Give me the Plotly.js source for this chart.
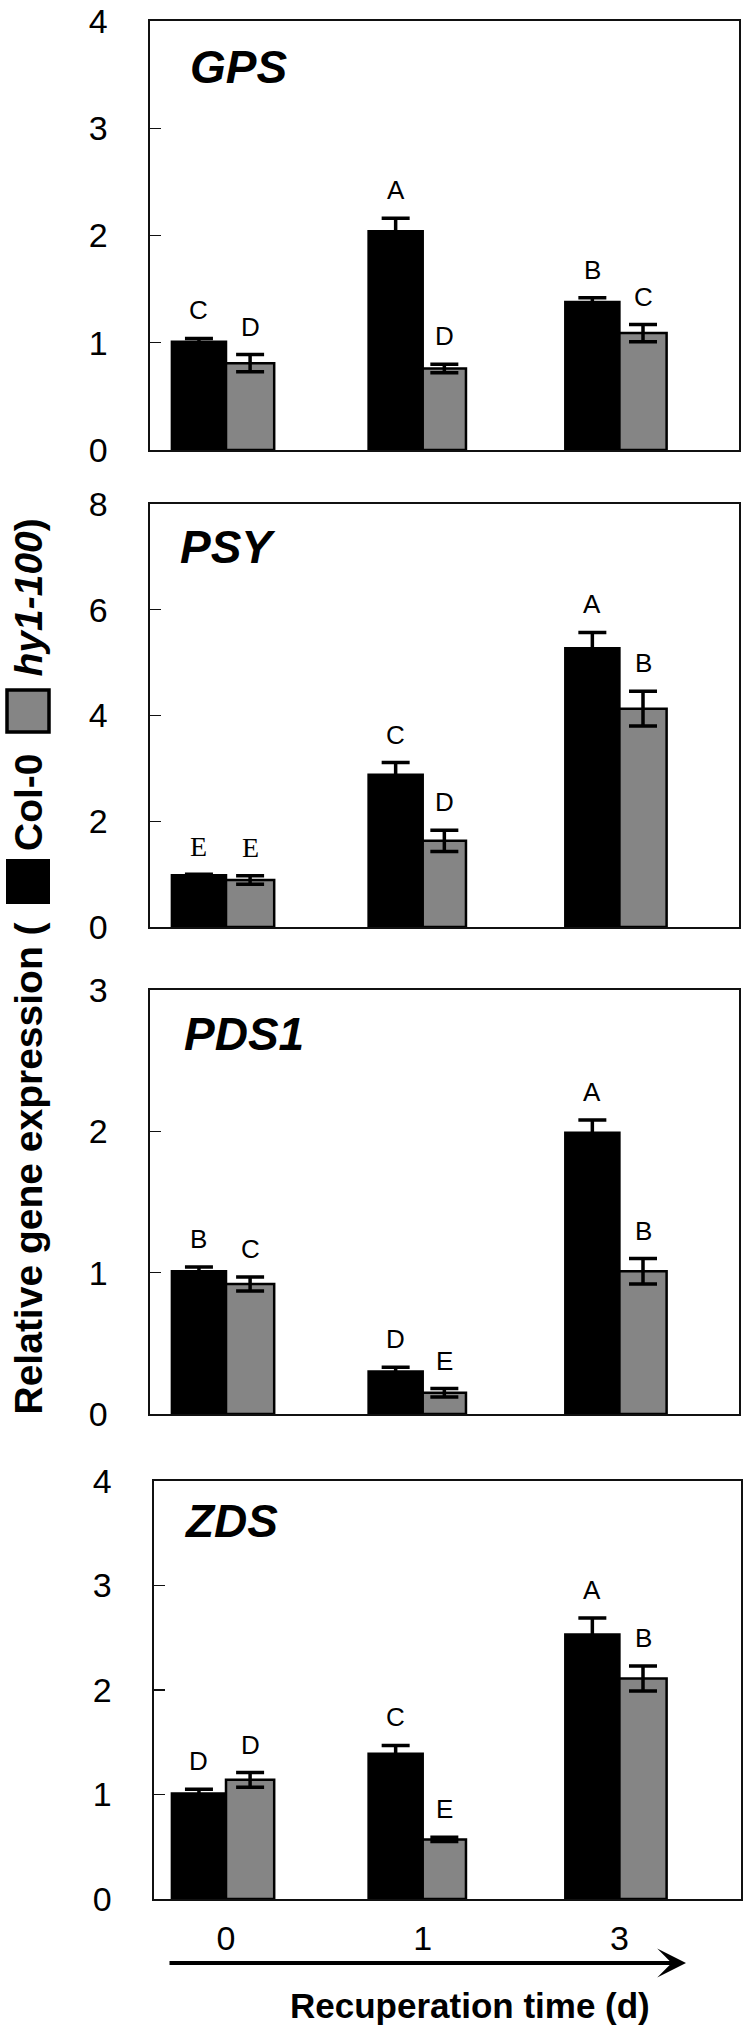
<!DOCTYPE html>
<html>
<head>
<meta charset="utf-8">
<script src="https://cdn.plot.ly/plotly-3.0.1.min.js"></script>
<style>html,body{margin:0;padding:0;background:#fff;}#chart{width:746px;height:2026px;}</style>
</head>
<body>
<div id="chart"></div>
<script>
// ---------------- data ----------------
const categories = ['0', '1', '3'];
const genes = ['GPS', 'PSY', 'PDS1', 'ZDS'];

const gpsCol = [1.01, 2.04, 1.38];
const gpsColErr = [0.03, 0.12, 0.04];
const gpsHy = [0.81, 0.76, 1.09];
const gpsHyErr = [0.08, 0.04, 0.08];
const gpsColLetters = ['C', 'A', 'B'];
const gpsHyLetters = ['D', 'D', 'C'];

const psyCol = [0.98, 2.88, 5.27];
const psyColErr = [0.02, 0.23, 0.30];
const psyHy = [0.89, 1.63, 4.13];
const psyHyErr = [0.08, 0.20, 0.33];
const psyColLetters = ['E', 'C', 'A'];
const psyHyLetters = ['E', 'D', 'B'];

const pdsCol = [1.01, 0.30, 1.99];
const pdsColErr = [0.03, 0.03, 0.09];
const pdsHy = [0.92, 0.15, 1.01];
const pdsHyErr = [0.05, 0.03, 0.09];
const pdsColLetters = ['B', 'D', 'A'];
const pdsHyLetters = ['C', 'E', 'B'];

const zdsCol = [1.01, 1.39, 2.53];
const zdsColErr = [0.04, 0.08, 0.16];
const zdsHy = [1.14, 0.57, 2.11];
const zdsHyErr = [0.07, 0.02, 0.12];
const zdsColLetters = ['D', 'C', 'A'];
const zdsHyLetters = ['D', 'E', 'B'];

const yMax = [4, 8, 3, 4];
const yStep = [1, 2, 1, 1];

// ---------------- layout geometry (pixels) ----------------
const W = 746, H = 2026;
const px = v => v / W;
const py = v => 1 - v / H;

const panelGeom = [
  {top: 21, bot: 450, left: 150, right: 739, gx: 188, gy: 46},
  {top: 504, bot: 927, left: 150, right: 739, gx: 178, gy: 43},
  {top: 990, bot: 1414, left: 150, right: 739, gx: 182, gy: 44},
  {top: 1481, bot: 1899, left: 154, right: 741, gx: 182, gy: 40}
];
const catPx0 = 226, catPxStep = 196.7;   // pixel of category 0 centre, pixels per category

const series = [
  [gpsCol, gpsColErr, gpsHy, gpsHyErr, gpsColLetters, gpsHyLetters],
  [psyCol, psyColErr, psyHy, psyHyErr, psyColLetters, psyHyLetters],
  [pdsCol, pdsColErr, pdsHy, pdsHyErr, pdsColLetters, pdsHyLetters],
  [zdsCol, zdsColErr, zdsHy, zdsHyErr, zdsColLetters, zdsHyLetters]
];

const BLACK = '#000000', GRAY = '#858585';
const FONT = 'Liberation Sans, Arial, Helvetica, sans-serif';
const blackW = 0.275;
const grayW = [0.245, 0.22, 0.24];

const traces = [];
const annotations = [];
const shapes = [];
const layout = {
  width: W, height: H,
  margin: {l: 0, r: 0, t: 0, b: 0},
  paper_bgcolor: '#fff', plot_bgcolor: '#fff',
  showlegend: false,
  barmode: 'overlay',
  font: {family: FONT, color: '#000'}
};

series.forEach((s, k) => {
  const g = panelGeom[k];
  const sfx = k === 0 ? '' : String(k + 1);
  const xa = 'x' + sfx, ya = 'y' + sfx;
  const [col, colErr, hy, hyErr, colL, hyL] = s;

  traces.push({
    type: 'bar', x: categories, y: col, xaxis: xa, yaxis: ya,
    width: blackW, offset: -blackW,
    marker: {color: BLACK, line: {color: BLACK, width: 2.5}},
    error_y: {type: 'data', array: colErr, visible: true, color: BLACK, thickness: 3.5, width: 14},
    hoverinfo: 'skip'
  });
  traces.push({
    type: 'bar', x: categories, y: hy, xaxis: xa, yaxis: ya,
    width: grayW, offset: 0,
    marker: {color: GRAY, line: {color: BLACK, width: 2.5}},
    error_y: {type: 'data', array: hyErr, visible: true, color: BLACK, thickness: 3.5, width: 14},
    hoverinfo: 'skip'
  });

  const r0 = -(catPx0 - g.left) / catPxStep;
  const r1 = 2 + (g.right - (catPx0 + 2 * catPxStep)) / catPxStep;

  layout['xaxis' + sfx] = {
    domain: [px(g.left), px(g.right)],
    anchor: ya,
    type: 'category',
    categoryorder: 'array', categoryarray: categories,
    range: [r0, r1],
    showline: true, mirror: true, linecolor: '#111', linewidth: 1.6,
    ticks: '', showgrid: false, zeroline: false,
    showticklabels: k === 3,
    tickfont: {size: 34, family: FONT, color: '#000'},
    ticklabelstandoff: 9,
    fixedrange: true
  };
  const tv = [];
  for (let v = 0; v <= yMax[k]; v += yStep[k]) tv.push(v);
  layout['yaxis' + sfx] = {
    domain: [py(g.bot), py(g.top)],
    anchor: xa,
    range: [0, yMax[k]],
    tickvals: tv, ticktext: tv.map(String),
    showline: true, mirror: true, linecolor: '#111', linewidth: 1.6,
    ticks: 'inside', ticklen: 11, tickwidth: 1.2, tickcolor: '#111',
    showgrid: false, zeroline: false,
    tickfont: {size: 34, family: FONT, color: '#000'},
    ticklabelstandoff: 34,
    fixedrange: true
  };

  // gene name
  annotations.push({
    xref: 'paper', yref: 'paper', x: px(g.gx), y: py(g.top + g.gy),
    xanchor: 'left', yanchor: 'middle', showarrow: false,
    text: '<b><i>' + genes[k] + '</i></b>',
    font: {size: 46, family: FONT, color: '#000'}
  });

  // significance letters
  for (let i = 0; i < categories.length; i++) {
    const serif = (k === 1 && i === 0);
    const lf = {size: serif ? 28 : 26, family: serif ? 'Liberation Serif, Times New Roman, serif' : FONT, color: '#000'};
    annotations.push({
      xref: xa, yref: ya, x: i - blackW / 2, y: col[i] + colErr[i],
      xanchor: 'center', yanchor: 'middle', yshift: 28, showarrow: false,
      text: colL[i], font: lf
    });
    annotations.push({
      xref: xa, yref: ya, x: i + grayW[i] / 2, y: hy[i] + hyErr[i],
      xanchor: 'center', yanchor: 'middle', yshift: 28, showarrow: false,
      text: hyL[i], font: lf
    });
  }
});

// ---- vertical axis title with inline legend ----
const titleFont = {size: 39, family: FONT, color: '#000'};
annotations.push({
  xref: 'paper', yref: 'paper', x: px(28), y: py((1410 + 927) / 2),
  xanchor: 'center', yanchor: 'middle', textangle: -90, showarrow: false,
  text: '<b>Relative gene expression (</b>', font: titleFont
});
annotations.push({
  xref: 'paper', yref: 'paper', x: px(28), y: py((757 + 847) / 2),
  xanchor: 'center', yanchor: 'middle', textangle: -90, showarrow: false,
  text: '<b>Col-0</b>', font: titleFont
});
annotations.push({
  xref: 'paper', yref: 'paper', x: px(28), y: py((518 + 677) / 2),
  xanchor: 'center', yanchor: 'middle', textangle: -90, showarrow: false,
  text: '<b><i>hy1-100</i>)</b>', font: titleFont
});
shapes.push({
  type: 'rect', xref: 'paper', yref: 'paper',
  x0: px(7), x1: px(49), y0: py(903), y1: py(860),
  fillcolor: BLACK, line: {color: BLACK, width: 2}
});
shapes.push({
  type: 'rect', xref: 'paper', yref: 'paper',
  x0: px(7), x1: px(49), y0: py(732), y1: py(690),
  fillcolor: GRAY, line: {color: BLACK, width: 3.5}
});

// ---- time arrow and x title ----
annotations.push({
  xref: 'paper', yref: 'paper', x: px(686), y: py(1963),
  ax: -(686 - 168), ay: 0, axref: 'pixel', ayref: 'pixel',
  showarrow: true, arrowhead: 3, arrowsize: 1.2, arrowwidth: 4, arrowcolor: '#000',
  text: '', standoff: 0, startstandoff: 0
});
annotations.push({
  xref: 'paper', yref: 'paper', x: px(470), y: py(2005),
  xanchor: 'center', yanchor: 'middle', showarrow: false,
  text: '<b>Recuperation time (d)</b>', font: {size: 35, family: FONT, color: '#000'}
});

layout.annotations = annotations;
layout.shapes = shapes;

Plotly.newPlot('chart', traces, layout, {staticPlot: true, displayModeBar: false});
</script>
</body>
</html>
